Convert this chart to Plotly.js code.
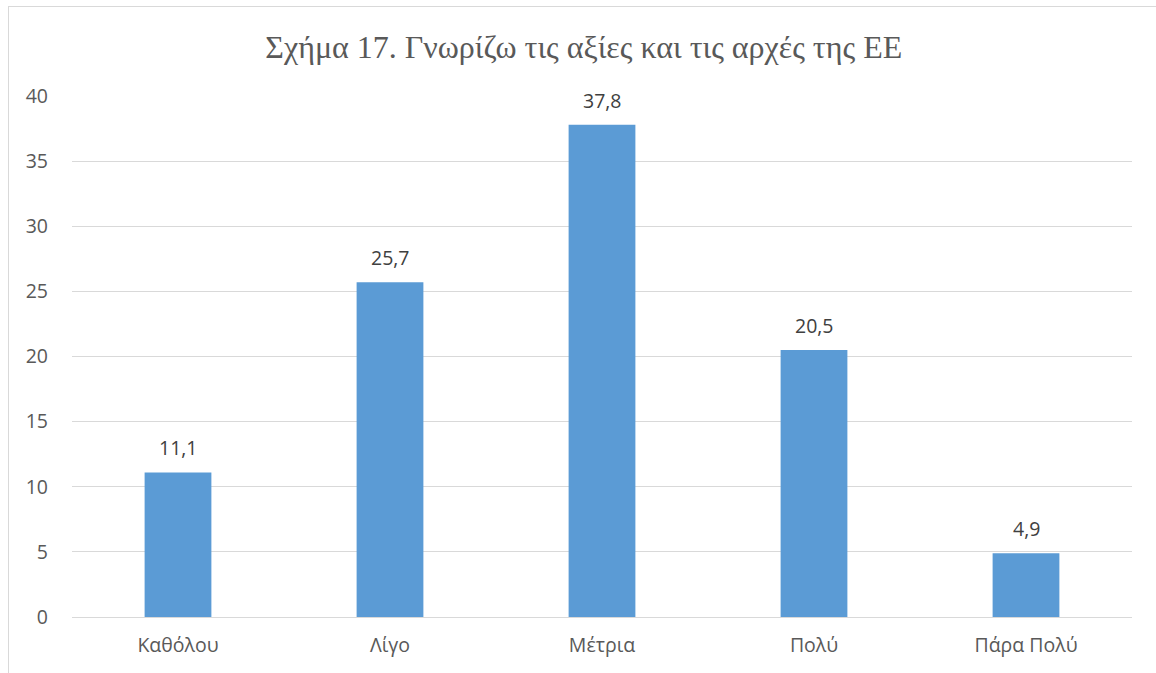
<!DOCTYPE html>
<html>
<head>
<meta charset="utf-8">
<script src="https://cdn.plot.ly/plotly-3.0.1.min.js"></script>
<style>
html,body{margin:0;padding:0;background:#fff;}
#frame{position:absolute;left:8px;top:6px;width:1160px;height:680px;border-left:1px solid #d9d9d9;border-top:1px solid #d9d9d9;pointer-events:none;}
#chart{position:absolute;left:0;top:0;width:1156px;height:673px;}
</style>
</head>
<body>
<div id="chart"></div>
<div id="frame"></div>
<script>
const categories = ["Καθόλου", "Λίγο", "Μέτρια", "Πολύ", "Πάρα Πολύ"];
const values = [11.1, 25.7, 37.8, 20.5, 4.9];
const yTicks = [0, 5, 10, 15, 20, 25, 30, 35, 40];
const titleText = "Σχήμα 17. Γνωρίζω τις αξίες και τις αρχές της ΕΕ";

const sans = "Open Sans, Noto Sans, sans-serif";

const trace = {
  type: "bar",
  x: categories,
  y: values,
  marker: {color: "#5B9BD5"},
  width: 0.315,
  hoverinfo: "x+y"
};

const annotations = categories.map((c, i) => ({
  x: c, y: values[i], xref: "x", yref: "y",
  text: values[i].toFixed(1).replace(".", ","),
  showarrow: false, yanchor: "bottom", yshift: 9,
  font: {family: sans, size: 19.5, color: "#404040"}
}));

const layout = {
  width: 1156, height: 673,
  margin: {l: 72, r: 24, t: 96, b: 56},
  paper_bgcolor: "#ffffff", plot_bgcolor: "#ffffff",
  separators: ",.",
  title: {
    text: titleText,
    font: {family: "Liberation Serif, Times New Roman, serif", size: 32, color: "#595959"},
    x: 0.505, xanchor: "center", y: 0.93, yanchor: "middle"
  },
  xaxis: {
    type: "category",
    showgrid: false, zeroline: false, showline: false, ticks: "",
    tickfont: {family: sans, size: 19.5, color: "#595959"},
    ticklabelstandoff: 14
  },
  yaxis: {
    range: [0, 40],
    tickvals: yTicks,
    ticktext: yTicks.map(String),
    showgrid: true, gridcolor: "#d9d9d9", gridwidth: 1,
    zeroline: true, zerolinecolor: "#d9d9d9", zerolinewidth: 1,
    showline: false, ticks: "",
    tickfont: {family: sans, size: 19.5, color: "#595959"},
    ticklabelstandoff: 23
  },
  annotations: annotations,
  showlegend: false,
  bargap: 0.685
};

Plotly.newPlot("chart", [trace], layout, {displayModeBar: false, staticPlot: true});
</script>
</body>
</html>
